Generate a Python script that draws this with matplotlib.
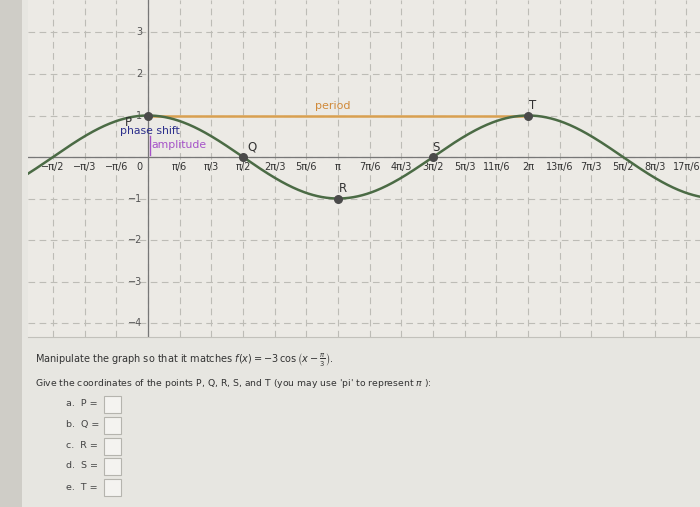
import numpy as np
import matplotlib
matplotlib.use('Agg')
import matplotlib.pyplot as plt
from matplotlib.patches import Rectangle

# curve parameters (graph shows y = a*cos(b*(x - c)))
amp = 1
freq = 1
shift = 0

# labelled points (in units of pi for x)
pt_names = ['P', 'Q', 'R', 'S', 'T']
pt_x = [0, 0.5, 1, 1.5, 2]
pt_y = [1, 0, -1, 0, 1]

# x tick labels at multiples of pi/6
xtick_sixths = [-3, -2, -1, 0, 1, 2, 3, 4, 5, 6, 7, 8, 9, 10, 11, 12, 13, 14, 15, 16, 17]
xtick_labels = ['−π/2', '−π/3', '−π/6', '0', 'π/6', 'π/3', 'π/2', '2π/3', '5π/6', 'π',
                '7π/6', '4π/3', '3π/2', '5π/3', '11π/6', '2π', '13π/6', '7π/3', '5π/2',
                '8π/3', '17π/6']
ytick_vals = [3, 2, 1, -1, -2, -3, -4]

PI = np.pi
W, H = 700, 507

fig = plt.figure(figsize=(7, 5.07), dpi=100, facecolor='#e7e6e1')
# darker strip on the left edge of the photo
fig.patches.append(Rectangle((0, 0), 22 / W, 1, transform=fig.transFigure,
                             facecolor='#cfcdc7', edgecolor='none', zorder=0))

ax = fig.add_axes([28 / W, 1 - 337 / H, 672 / W, 337 / H])
ax.set_facecolor('#eceae5')
x0, x1 = -0.6316 * PI, 2.905 * PI
ax.set_xlim(x0, x1)
ax.set_ylim(-4.337, 3.783)
for s in ax.spines.values():
    s.set_visible(False)
ax.spines['bottom'].set_visible(True)
ax.spines['bottom'].set_color('#c2c1bb')
ax.set_xticks([])
ax.set_yticks([])

# dashed grid
for k in range(-4, 18):
    ax.axvline(k * PI / 6, color='#bdbcb6', lw=0.8, ls=(0, (6, 4)), zorder=1)
for v in range(-4, 4):
    ax.axhline(v, color='#bdbcb6', lw=0.8, ls=(0, (6, 4)), zorder=1)

# axes
ax.axhline(0, color='#777777', lw=0.9, zorder=2)
ax.axvline(0, color='#777777', lw=0.9, zorder=2)

for k, lab in zip(xtick_sixths, xtick_labels):
    xx = k * PI / 6 if k != 0 else -0.045 * PI
    ax.text(xx, -0.12, lab, ha='center', va='top', fontsize=7, color='#333333', zorder=3)
for v in ytick_vals:
    ax.text(-0.03 * PI, v, str(v).replace('-', '−'), ha='right', va='center', fontsize=7,
            color='#555555', zorder=3)

# curve
xs = np.linspace(x0, x1, 600)
ax.plot(xs, amp * np.cos(freq * (xs - shift)), color='#4b6b45', lw=1.8, zorder=4)

# period segment
ax.plot([pt_x[0] * PI, pt_x[4] * PI], [pt_y[0], pt_y[4]], color='#d9a050', lw=1.8, zorder=3)
ax.text(0.97 * PI, 1.12, 'period', color='#d08a3a', fontsize=8, ha='center', va='bottom', zorder=5)

# amplitude segment
ax.plot([0.012 * PI, 0.012 * PI], [0.05, 0.5], color='#a552c8', lw=1.0, zorder=5)
ax.text(0.02 * PI, 0.28, 'amplitude', color='#a552c8', fontsize=7.8, ha='left', va='center', zorder=5)
ax.text(-0.15 * PI, 0.63, 'phase shift', color='#2c2f8c', fontsize=7.8, ha='left', va='center', zorder=5)

# points
ax.scatter([x * PI for x in pt_x], pt_y, s=30, color='#4a4a4a', zorder=6)
lab_pos = [(-0.105, 0.82), (0.547, 0.24), (1.026, -0.77), (1.516, 0.22), (2.026, 1.23)]
for name, (lx, ly) in zip(pt_names, lab_pos):
    ax.text(lx * PI, ly, name, fontsize=8.5, color='#333333', ha='center', va='center', zorder=6)

# question text below the graph
fig.text(35 / W, 1 - 360 / H,
         r'Manipulate the graph so that it matches $f(x) = -3\,\cos\left(x - \frac{\pi}{3}\right)$.',
         fontsize=7, color='#333333', va='center')
fig.text(35 / W, 1 - 384 / H,
         "Give the coordinates of the points P, Q, R, S, and T (you may use 'pi' to represent $\\pi$ ):",
         fontsize=6.7, color='#333333', va='center')
answer_labels = ['a.  P =', 'b.  Q =', 'c.  R =', 'd.  S =', 'e.  T =']
row_y = [404, 425, 446, 466, 487]
for lab, yy in zip(answer_labels, row_y):
    fig.text(66 / W, 1 - yy / H, lab, fontsize=6.8, color='#444444', va='center')
    fig.patches.append(Rectangle((104 / W, 1 - (yy + 9) / H), 17 / W, 17 / H,
                                 transform=fig.transFigure, facecolor='#f4f3f0',
                                 edgecolor='#b5b4ae', lw=0.8))

fig.savefig('out.png', dpi=100, facecolor=fig.get_facecolor())
